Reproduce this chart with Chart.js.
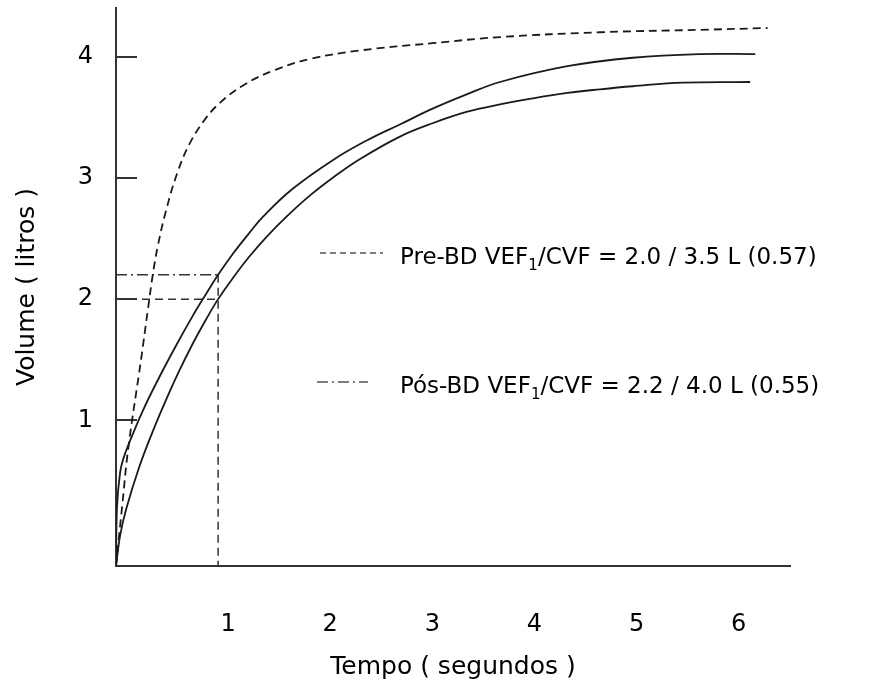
<!DOCTYPE html>
<html><head><meta charset="utf-8">
<script src="https://cdn.jsdelivr.net/npm/chart.js@4"></script>
<style>html,body{margin:0;padding:0;background:#fff}#wrap{width:893px;height:691px}</style>
</head><body><div id="wrap"><canvas id="c" width="893" height="691"></canvas></div>
<script>
// ---- data (time in s, volume in L) ----
const normalT = [0, 0.06, 0.12, 0.245, 0.31, 0.36, 0.41, 0.49, 0.60, 0.72, 0.87, 1.02, 1.26, 1.56, 1.90, 2.39, 3.10, 3.76, 4.74, 5.72, 6.38];
const normalV = [-0.2, 0.29, 0.77, 1.50, 1.90, 2.20, 2.44, 2.73, 3.04, 3.28, 3.48, 3.62, 3.77, 3.89, 3.98, 4.05, 4.11, 4.16, 4.20, 4.22, 4.235];
const posT = [0, 0.01, 0.04, 0.07, 0.12, 0.26, 0.42, 0.59, 0.75, 0.88, 1.0, 1.15, 1.30, 1.44, 1.73, 2.13, 2.46, 2.78, 3.10, 3.44, 3.76, 4.42, 5.06, 5.72, 6.26];
const posV = [-0.2, 0.29, 0.57, 0.68, 0.795, 1.075, 1.35, 1.62, 1.86, 2.04, 2.2, 2.38, 2.54, 2.68, 2.91, 3.15, 3.31, 3.44, 3.57, 3.69, 3.79, 3.92, 3.99, 4.02, 4.02];
const preT = [0, 0.04, 0.10, 0.225, 0.36, 0.49, 0.62, 0.75, 0.88, 1.0, 1.15, 1.30, 1.47, 1.67, 1.90, 2.13, 2.39, 2.78, 3.10, 3.44, 3.76, 4.08, 4.42, 4.74, 5.06, 5.55, 6.21];
const preV = [-0.2, 0.05, 0.27, 0.61, 0.91, 1.17, 1.41, 1.63, 1.83, 2.0, 2.18, 2.345, 2.51, 2.68, 2.855, 3.005, 3.155, 3.34, 3.45, 3.545, 3.605, 3.655, 3.70, 3.73, 3.755, 3.785, 3.79];
const fev1T = [0, 1];
const fev1PreV = [2.0, 2.0];
const fev1PosV = [2.2, 2.2];
const fev1LineT = [1, 1];
const fev1LineV = [2.2, -0.2];
const xTicks = [1, 2, 3, 4, 5, 6];
const yTicks = [1, 2, 3, 4];
const xTitle = 'Tempo ( segundos )';
const yTitle = 'Volume ( litros )';
const legendPre = ['Pre-BD VEF', '1', '/CVF = 2.0 / 3.5 L (0.57)'];
const legendPos = ['Pós-BD VEF', '1', '/CVF = 2.2 / 4.0 L (0.55)'];

const FONT = '"DejaVu Sans", sans-serif';
const INK = '#1a1a1a';
const DASH = [8, 5];
const DASHDOT = [11, 4, 2, 4];

const zip = (xs, ys) => xs.map((x, i) => ({x, y: ys[i]}));

const legendPlugin = {
  id: 'customLegend',
  afterDatasetsDraw(chart) {
    const ctx = chart.ctx;
    const items = [
      {runs: legendPre, dash: [6, 4], x0: 320, x1: 383, ly: 253, ty: 258},
      {runs: legendPos, dash: DASHDOT, x0: 317, x1: 368, ly: 382, ty: 387}
    ];
    ctx.save();
    items.forEach(it => {
      ctx.beginPath();
      ctx.setLineDash(it.dash);
      ctx.strokeStyle = '#555';
      ctx.lineWidth = 1.5;
      ctx.moveTo(it.x0, it.ly); ctx.lineTo(it.x1, it.ly);
      ctx.stroke();
      ctx.setLineDash([]);
      ctx.fillStyle = '#000';
      ctx.textBaseline = 'middle';
      let x = 400;
      it.runs.forEach((t, i) => {
        const sub = i === 1;
        ctx.font = (sub ? '15px ' : '23px ') + FONT;
        ctx.fillText(t, x, it.ty + (sub ? 8 : 0));
        x += ctx.measureText(t).width;
      });
    });
    ctx.restore();
  }
};

const curve = (label, xs, ys, dash) => ({
  label, data: zip(xs, ys), showLine: true, borderColor: INK, borderWidth: 1.8,
  borderDash: dash || [], pointRadius: 0, tension: 0.4, fill: false
});
const marker = (label, xs, ys, dash) => ({
  label, data: zip(xs, ys), showLine: true, borderColor: '#333', borderWidth: 1.5,
  borderDash: dash, pointRadius: 0, tension: 0, fill: false
});

new Chart(document.getElementById('c'), {
  type: 'scatter',
  data: {
    datasets: [
      curve('Normal', normalT, normalV, DASH),
      curve('Pós-BD', posT, posV),
      curve('Pre-BD', preT, preV),
      marker('VEF1 Pre-BD', fev1T, fev1PreV, DASH),
      marker('VEF1 Pós-BD', fev1T, fev1PosV, DASHDOT),
      marker('1 s', fev1LineT, fev1LineV, DASH)
    ]
  },
  options: {
    responsive: false,
    animation: false,
    devicePixelRatio: 1,
    layout: {padding: {left: 0, right: 103, top: 8, bottom: 0}},
    plugins: {legend: {display: false}, tooltip: {enabled: false}},
    scales: {
      x: {
        type: 'linear', min: 0, max: 6.6,
        afterBuildTicks: s => { s.ticks = xTicks.map(v => ({value: v})); },
        afterFit: s => { s.height = 125; s.paddingLeft = 0; s.paddingRight = 0; },
        grid: {drawOnChartArea: false, drawTicks: false},
        border: {display: true, color: '#333', width: 2},
        ticks: {padding: 44, labelOffset: 10, autoSkip: false, maxRotation: 0, color: '#000',
                font: {size: 24, family: FONT}},
        title: {display: true, text: xTitle, color: '#000', font: {size: 25, family: FONT},
                padding: {top: 0, bottom: 9}}
      },
      y: {
        type: 'linear', min: -0.2, max: 4.4,
        afterBuildTicks: s => { s.ticks = yTicks.map(v => ({value: v})); },
        afterFit: s => { s.width = 116; s.paddingTop = 0; s.paddingBottom = 0; },
        grid: {drawOnChartArea: false, drawTicks: true, tickLength: -21, color: '#333', lineWidth: 2},
        border: {display: true, color: '#333', width: 2},
        ticks: {padding: 44, color: '#000', font: {size: 24, family: FONT}},
        title: {display: true, text: yTitle, color: '#000', font: {size: 25, family: FONT},
                padding: {top: 12, bottom: 0}}
      }
    }
  },
  plugins: [legendPlugin]
});
</script>
</body></html>
